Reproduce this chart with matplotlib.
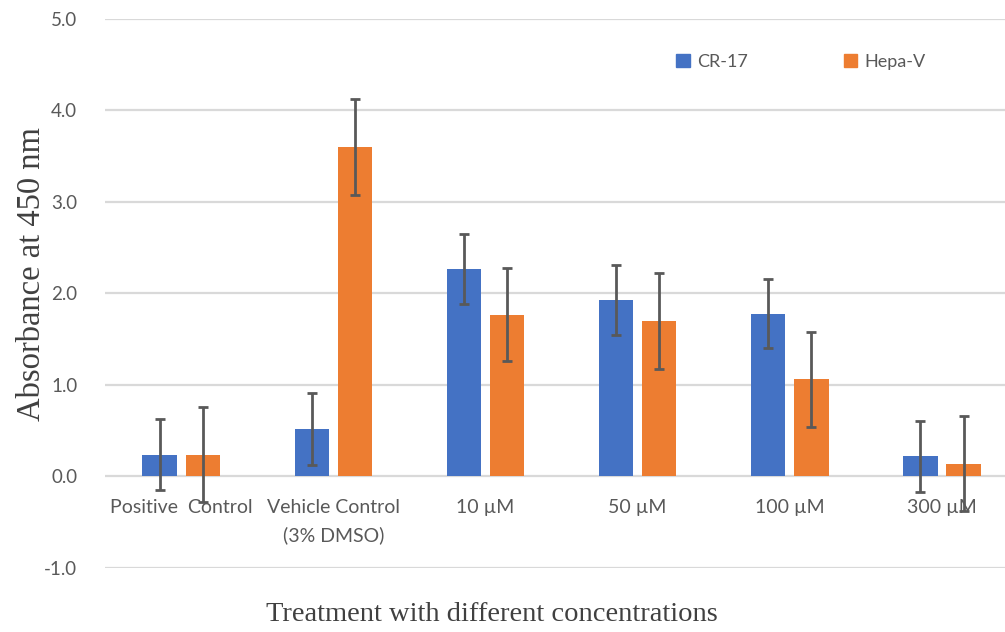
import numpy as np
import matplotlib.pyplot as plt
from matplotlib.patches import Patch

categories = ['Positive  Control', 'Vehicle Control\n(3% DMSO)', '10 µM', '50 µM', '100 µM', '300 µM']
cr17 = [0.24, 0.52, 2.27, 1.93, 1.78, 0.22]
cr17_err = [0.39, 0.39, 0.38, 0.38, 0.38, 0.39]
hepav = [0.24, 3.60, 1.77, 1.70, 1.06, 0.14]
hepav_err = [0.52, 0.52, 0.51, 0.52, 0.52, 0.52]
yticks = [-1.0, 0.0, 1.0, 2.0, 3.0, 4.0, 5.0]

blue = '#4472C4'
orange = '#ED7D31'
grey = '#595959'

fig = plt.figure(figsize=(10.05, 6.32), dpi=100)
ax = fig.add_axes([0.1045, 0.1013, 0.8955, 0.8687])

x = np.arange(len(categories))
w = 0.225
off = 0.142
ebar = dict(ecolor=grey, elinewidth=2, capsize=3.8, capthick=2, zorder=4)
ax.bar(x - off, cr17, w, color=blue, yerr=cr17_err, error_kw=ebar, zorder=2, label='CR-17')
ax.bar(x + off, hepav, w, color=orange, yerr=hepav_err, error_kw=ebar, zorder=2, label='Hepa-V')

ax.set_ylim(-1, 5)
ax.set_xlim(-0.5, 5.414)
ax.set_yticks(yticks)
ax.set_yticklabels(['%.1f' % v for v in yticks], fontfamily='Lato', fontsize=13.5, color=grey)

# category labels sit just under the zero line, not under the axes bottom
ax.spines['bottom'].set_position(('data', 0))
ax.set_xticks(x)
ax.set_xticklabels(categories, fontfamily='Lato', fontsize=14, color=grey, linespacing=1.7)
ax.tick_params(axis='both', length=0)
ax.tick_params(axis='y', pad=20)
ax.tick_params(axis='x', pad=16)
ax.grid(axis='y', color='#d9d9d9', linewidth=1.6, zorder=0)
ax.set_axisbelow(True)
for s in ax.spines.values():
    s.set_visible(False)

ax.set_ylabel('Absorbance at 450 nm', fontfamily='Liberation Serif', fontsize=23.5, color='#404040')
ax.yaxis.set_label_coords(-0.064, 0.535)
fig.text(0.489, 0.027, 'Treatment with different concentrations', fontfamily='Liberation Serif',
         fontsize=20.5, color='#404040', ha='center', va='center')

handles = [Patch(color=blue, label='CR-17'), Patch(color=orange, label='Hepa-V')]
fig.legend(handles=handles, loc='center', bbox_to_anchor=(0.797, 0.902), ncol=2, frameon=False,
           prop={'family': 'Lato', 'size': 13}, labelcolor=grey, handlelength=0.75,
           handleheight=0.75, handletextpad=0.4, columnspacing=5.3)

plt.savefig('out.png', dpi=100)
